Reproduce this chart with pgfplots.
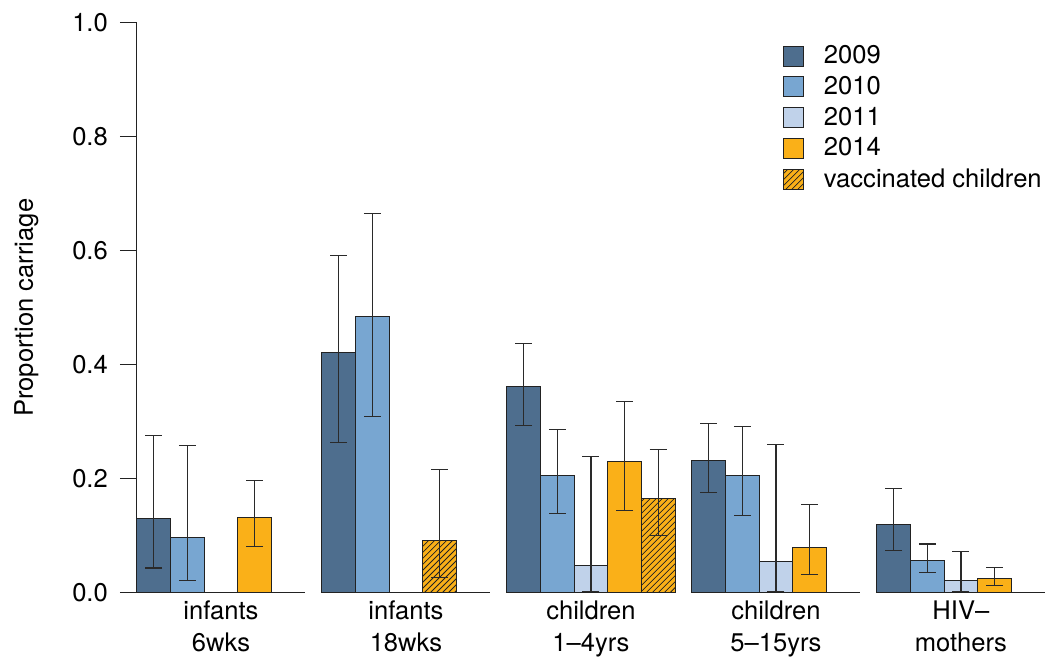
\documentclass[border=0pt]{standalone}
\usepackage{pgfplots}
\pgfplotsset{compat=1.18}
\usepackage{pgfplotstable}
\usepackage{fontspec}
\setmainfont{TeX Gyre Heros}
\usetikzlibrary{patterns}
\definecolor{cA}{HTML}{4E6E8E}
\definecolor{cB}{HTML}{78A6D1}
\definecolor{cC}{HTML}{C0D2EA}
\definecolor{cD}{HTML}{FAB018}
\definecolor{edge}{HTML}{222222}
\definecolor{errc}{HTML}{2A2A2A}

% x = slot centre, y = estimate, hi/lo = interval ends
\pgfplotstableread{
x    y     hi    lo
0.5  0.129 0.275 0.043
6    0.421 0.591 0.263
11.5 0.362 0.437 0.293
17   0.232 0.297 0.175
22.5 0.119 0.182 0.074
}\tA
\pgfplotstableread{
x    y     hi    lo
1.5  0.097 0.258 0.021
7    0.485 0.665 0.309
12.5 0.205 0.286 0.139
18   0.205 0.291 0.135
23.5 0.056 0.085 0.035
}\tB
\pgfplotstableread{
x    y     hi    lo
13.5 0.048 0.239 0.002
19   0.054 0.260 0.002
24.5 0.021 0.072 0.002
}\tC
\pgfplotstableread{
x    y     hi    lo
3.5  0.131 0.196 0.081
14.5 0.230 0.335 0.144
20   0.079 0.155 0.032
25.5 0.024 0.044 0.012
}\tD
\pgfplotstableread{
x    y     hi    lo
9    0.091 0.216 0.026
15.5 0.165 0.251 0.100
}\tE

\begin{document}
\begin{tikzpicture}[font=\fontsize{12.8}{15}\selectfont]
\begin{axis}[
  scale only axis,
  width=454.5pt, height=285pt,
  xmin=0, xmax=27, ymin=0, ymax=1,
  axis x line*=bottom, axis y line*=left,
  axis line style={-, line width=0.5pt, draw=edge},
  x axis line style={draw=none},
  xtick={2.5,8,13.5,19,24.5},
  xticklabels={{infants\\6wks},{infants\\18wks},{children\\1–4yrs},{children\\5–15yrs},{HIV–\\mothers}},
  xticklabel style={align=center, font=\fontsize{12.8}{16}\selectfont, yshift=8pt},
  x tick style={draw=none},
  major x tick style={draw=none},
  ytick={0,0.2,0.4,0.6,0.8,1.0},
  yticklabel style={font=\fontsize{12.8}{15}\selectfont, xshift=-2.5pt, /pgf/number format/.cd, fixed, fixed zerofill, precision=1, assume math mode=true},
  tick align=outside,
  major tick length=8.5pt,
  y tick style={line width=0.5pt, draw=edge},
  ylabel={Proportion carriage},
  ylabel style={at={(axis description cs:-0.1144,0.5)}, anchor=base, rotate=0, font=\fontsize{12.8}{15}\selectfont},
  error bars/y dir=both, error bars/y explicit,
  error bars/error bar style={line width=0.6pt, draw=errc},
  error bars/error mark options={rotate=90, mark size=4.25pt, line width=0.6pt, draw=errc},
  legend style={draw=none, fill=none, at={(rel axis cs:0.711,0.968)}, anchor=north west,
    inner sep=0pt, row sep=0.8pt, font=\fontsize{12.8}{15}\selectfont},
  legend cell align=left,
  legend image code/.code={\draw[#1] (0pt,-5pt) rectangle (10pt,5pt); \path (18pt,0pt);},
  clip=false,
]
\addplot[ybar, bar width=1, bar shift=0pt, fill=cA, draw=edge, line width=0.5pt]
  table[x=x, y=y, y error plus expr=\thisrow{hi}-\thisrow{y}, y error minus expr=\thisrow{y}-\thisrow{lo}] {\tA};
\addlegendentry{2009}
\addplot[ybar, bar width=1, bar shift=0pt, fill=cB, draw=edge, line width=0.5pt]
  table[x=x, y=y, y error plus expr=\thisrow{hi}-\thisrow{y}, y error minus expr=\thisrow{y}-\thisrow{lo}] {\tB};
\addlegendentry{2010}
\addplot[ybar, bar width=1, bar shift=0pt, fill=cC, draw=edge, line width=0.5pt]
  table[x=x, y=y, y error plus expr=\thisrow{hi}-\thisrow{y}, y error minus expr=\thisrow{y}-\thisrow{lo}] {\tC};
\addlegendentry{2011}
\addplot[ybar, bar width=1, bar shift=0pt, fill=cD, draw=edge, line width=0.5pt]
  table[x=x, y=y, y error plus expr=\thisrow{hi}-\thisrow{y}, y error minus expr=\thisrow{y}-\thisrow{lo}] {\tD};
\addlegendentry{2014}
\addplot[ybar, bar width=1, bar shift=0pt, fill=cD, draw=edge, line width=0.5pt,
  postaction={pattern=north east lines, pattern color=edge}]
  table[x=x, y=y, y error plus expr=\thisrow{hi}-\thisrow{y}, y error minus expr=\thisrow{y}-\thisrow{lo}] {\tE};
\addlegendentry{vaccinated children}
% group baselines
\addplot[draw=edge, line width=0.7pt, forget plot] coordinates {(0,0) (5,0)};
\addplot[draw=edge, line width=0.7pt, forget plot] coordinates {(5.5,0) (10.5,0)};
\addplot[draw=edge, line width=0.7pt, forget plot] coordinates {(11,0) (16,0)};
\addplot[draw=edge, line width=0.7pt, forget plot] coordinates {(16.5,0) (21.5,0)};
\addplot[draw=edge, line width=0.7pt, forget plot] coordinates {(22,0) (27,0)};
\end{axis}
\pgfresetboundingbox
\path ([shift={(-68.5pt,-32.5pt)}]current axis.south west) rectangle ([shift={(0pt,11.5pt)}]current axis.north east);
\end{tikzpicture}
\end{document}
